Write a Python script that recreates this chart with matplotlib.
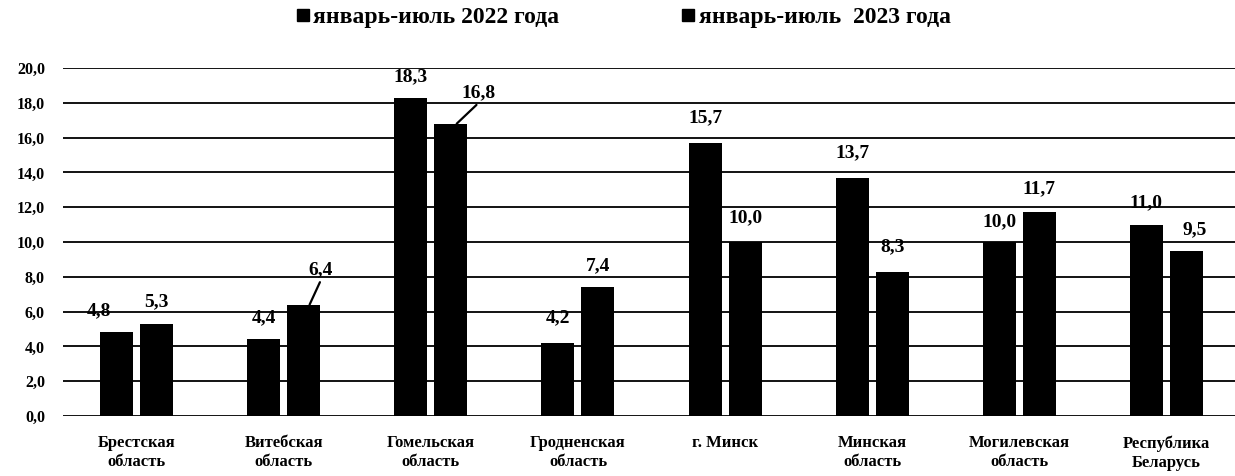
import matplotlib.pyplot as plt
from matplotlib.lines import Line2D
import numpy as np

plt.rcParams['font.family'] = ['Liberation Serif', 'DejaVu Serif']
plt.rcParams['font.weight'] = 'bold'

regions = ['Брестская\nобласть', 'Витебская\nобласть', 'Гомельская\nобласть',
           'Гродненская\nобласть', 'г. Минск', 'Минская\nобласть',
           'Могилевская\nобласть', 'Республика\nБеларусь']
v2022 = [4.8, 4.4, 18.3, 4.2, 15.7, 13.7, 10.0, 11.0]
v2023 = [5.3, 6.4, 16.8, 7.4, 10.0, 8.3, 11.7, 9.5]
series_names = ['январь-июль 2022 года', 'январь-июль  2023 года']
yticks = np.arange(0, 21, 2)

# label offsets in pixels (dx, dy of text centre above bar top)
off2022 = [(-18, 22), (0, 22), (0, 21), (0, 25), (0, 25), (0, 25), (0, 20), (0, 22)]
off2023 = [(0, 22), (17, 35), (28, 31), (0, 22), (0, 24), (0, 25), (0, 24), (8, 21)]
leader2023 = [False, True, True, False, False, False, False, False]

fig = plt.figure(figsize=(12.35, 4.76), dpi=100)
ax = fig.add_axes([63 / 1235, 60 / 476, 1177 / 1235, 348 / 476])

x = np.arange(len(regions))
w = 0.225
d = 0.136
ax.bar(x - d, v2022, width=w, color='black', zorder=3)
ax.bar(x + d, v2023, width=w, color='black', zorder=3)

ax.set_xlim(-0.5, 7.5)
ax.set_ylim(0, 20)
ax.set_yticks(yticks)
ax.set_yticklabels([f'{t:.1f}'.replace('.', ',') for t in yticks], fontsize=11.5, fontweight='bold')
ax.set_xticks(x)
ax.set_xticklabels(regions, fontsize=12, fontweight='bold', linespacing=1.25)
ax.tick_params(axis='both', length=0)
ax.tick_params(axis='y', pad=13)
ax.tick_params(axis='x', pad=14)
ax.grid(axis='y', color='black', linewidth=1.3, zorder=0)
for s in ax.spines.values():
    s.set_visible(False)

px = 0.72  # points per pixel at 100 dpi


def fmt(v):
    return f'{v:.1f}'.replace('.', ',')


for i in range(len(regions)):
    dx, dy = off2022[i]
    ax.annotate(fmt(v2022[i]), (x[i] - d, v2022[i]), xytext=(dx * px, dy * px),
                textcoords='offset points', ha='center', va='center',
                fontsize=14, fontweight='bold', zorder=4)
    dx, dy = off2023[i]
    if leader2023[i]:
        props = dict(arrowstyle='-', color='black', lw=1.6, shrinkA=1, shrinkB=0,
                     relpos=(0.55, 0.0))
        ax.annotate(fmt(v2023[i]), (x[i] + d + 0.04, v2023[i]),
                    xytext=((dx - 6) * px, dy * px), textcoords='offset points',
                    ha='center', va='center', fontsize=14, fontweight='bold',
                    zorder=4, arrowprops=props)
    else:
        ax.annotate(fmt(v2023[i]), (x[i] + d, v2023[i]), xytext=(dx * px, dy * px),
                    textcoords='offset points', ha='center', va='center',
                    fontsize=14, fontweight='bold', zorder=4)

handles = [Line2D([], [], marker='s', color='black', linestyle='none', markersize=8)
           for _ in series_names]
fig.legend(handles, series_names, loc='upper center', bbox_to_anchor=(0.505, 1.03),
           ncol=2, frameon=False, prop={'size': 17, 'weight': 'bold'},
           handlelength=0.5, handletextpad=0.2, columnspacing=5.2)

fig.savefig('out.png', dpi=100)
